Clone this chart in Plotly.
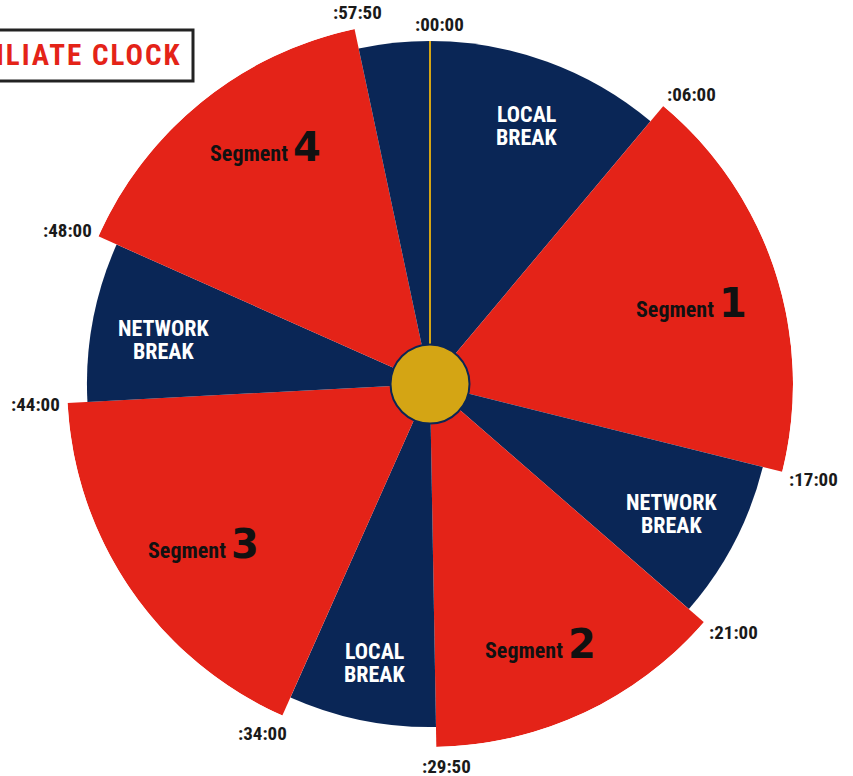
import math
import plotly.graph_objects as go

# ---------------- data ----------------
TIME_LABELS = [":00:00", ":06:00", ":17:00", ":21:00", ":29:50", ":34:00", ":44:00", ":48:00", ":57:50"]
BOUNDARY_DEG = [0, 40, 104, 131, 179, 204, 267, 294, 348]          # clock position of each time mark
SEG_KIND = ["break", "segment", "break", "segment", "break", "segment", "break", "segment", "break"]
SEG_TEXT = ["LOCAL<br>BREAK", "1", "NETWORK<br>BREAK", "2", "LOCAL<br>BREAK", "3", "NETWORK<br>BREAK", "4", ""]
KIND_RADIUS = {"break": 0.945, "segment": 1.0}
TITLE = "AFFILIATE CLOCK"

# ---------------- style ----------------
W, H = 853, 776
CX, CY, RPX = 430, 384, 363
LABEL_R = 0.766
RED, NAVY, GOLD = "#E42318", "#0A2656", "#D4A514"
COND = "Roboto Condensed, Liberation Sans Narrow, Roboto, sans-serif"
# small hand placement tweaks (px) for the inner labels and the time labels
INNER_SHIFT = [(1, 3), (-3, 5), (-5, 2), (-7, 8), (0, 7), (3, 3), (7, 7), (10, -21), (0, 0)]
LABEL_SHIFT = [(9, -16), (28, -11), (31, 8), (30, 10), (10, 20), (-20, 18), (-32, 2), (-31, -6), (3, -16)]

seg_start = BOUNDARY_DEG
seg_end = BOUNDARY_DEG[1:] + [360]
seg_mid = [(a + b) / 2 for a, b in zip(seg_start, seg_end)]
seg_width = [b - a for a, b in zip(seg_start, seg_end)]
seg_r = [KIND_RADIUS[k] for k in SEG_KIND]
seg_color = [RED if k == "segment" else NAVY for k in SEG_KIND]


def to_px(r, ang):
    return (CX + RPX * r * math.sin(math.radians(ang)),
            CY - RPX * r * math.cos(math.radians(ang)))


fig = go.Figure()
fig.add_trace(go.Barpolar(
    r=seg_r, theta=seg_mid, width=seg_width,
    marker=dict(color=seg_color, line=dict(width=0)),
    hoverinfo="skip", showlegend=False,
))
# gold zero line
fig.add_trace(go.Scatterpolar(
    r=[0, KIND_RADIUS["break"]], theta=[0, 0], mode="lines",
    line=dict(color=GOLD, width=2), hoverinfo="skip", showlegend=False,
))

fig.update_layout(
    width=W, height=H, margin=dict(l=0, r=0, t=0, b=0),
    paper_bgcolor="white", plot_bgcolor="white",
    polar=dict(
        domain=dict(x=[(CX - RPX) / W, (CX + RPX) / W],
                    y=[(H - CY - RPX) / H, (H - CY + RPX) / H]),
        bgcolor="rgba(0,0,0,0)",
        radialaxis=dict(visible=False, range=[0, 1]),
        angularaxis=dict(visible=False, direction="clockwise", rotation=90,
                         showgrid=False, showline=False, ticks=""),
        bargap=0,
    ),
)

annotations = []
# labels inside wedges
for i, (k, t, mid) in enumerate(zip(SEG_KIND, SEG_TEXT, seg_mid)):
    if not t:
        continue
    xp, yp = to_px(LABEL_R, mid)
    dx, dy = INNER_SHIFT[i]
    xp += dx
    yp += dy
    if k == "segment":
        annotations.append(dict(
            x=xp / W, y=1 - yp / H, xref="paper", yref="paper", showarrow=False,
            xanchor="center", yanchor="middle",
            text='<b>Segment</b> <span style="font-size:40px;font-family:DejaVu Sans;font-weight:bold">'
                 + t + '</span>',
            font=dict(family=COND, size=22, color="#111111"),
        ))
    else:
        lines = t.split("<br>")
        gap = 23
        for j, ln in enumerate(lines):
            off = (j - (len(lines) - 1) / 2) * gap
            annotations.append(dict(
                x=xp / W, y=1 - (yp + off) / H, xref="paper", yref="paper", showarrow=False,
                xanchor="center", yanchor="middle", text="<b>" + ln + "</b>",
                font=dict(family=COND, size=22, color="#FFFFFF"),
            ))

# time labels outside the clock
for i, (lab, ang) in enumerate(zip(TIME_LABELS, BOUNDARY_DEG)):
    r_corner = max(seg_r[i], seg_r[i - 1])
    xp, yp = to_px(r_corner, ang)
    dx, dy = LABEL_SHIFT[i]
    annotations.append(dict(
        x=xp / W, y=1 - yp / H, xref="paper", yref="paper",
        xshift=dx, yshift=-dy, showarrow=False, text="<b>" + lab + "</b>",
        font=dict(family=COND, size=19, color="#1a1a1a"),
        xanchor="center", yanchor="middle",
    ))

# title (clipped at left edge as in the reference)
annotations.append(dict(
    x=184 / W, y=1 - 55 / H, xref="paper", yref="paper", showarrow=False,
    xanchor="right", yanchor="middle",
    text='<b><span style="letter-spacing:2px">' + TITLE + '</span></b>',
    font=dict(family=COND, size=29, color=RED),
))
fig.update_layout(annotations=annotations)

fig.add_shape(type="rect", xref="paper", yref="paper",
              x0=-0.05, x1=193 / W, y0=1 - 81 / H, y1=1 - 30 / H,
              line=dict(color="#222222", width=3), fillcolor="rgba(0,0,0,0)")
fig.add_shape(type="circle", xref="paper", yref="paper",
              xsizemode="pixel", ysizemode="pixel",
              xanchor=CX / W, yanchor=1 - CY / H,
              x0=-39.5, x1=39.5, y0=-39.5, y1=39.5,
              fillcolor=GOLD, line=dict(color=NAVY, width=2))

fig.write_html("out.html", config={"displayModeBar": False},
               post_script="document.body.style.margin='0';document.body.style.padding='0';")
